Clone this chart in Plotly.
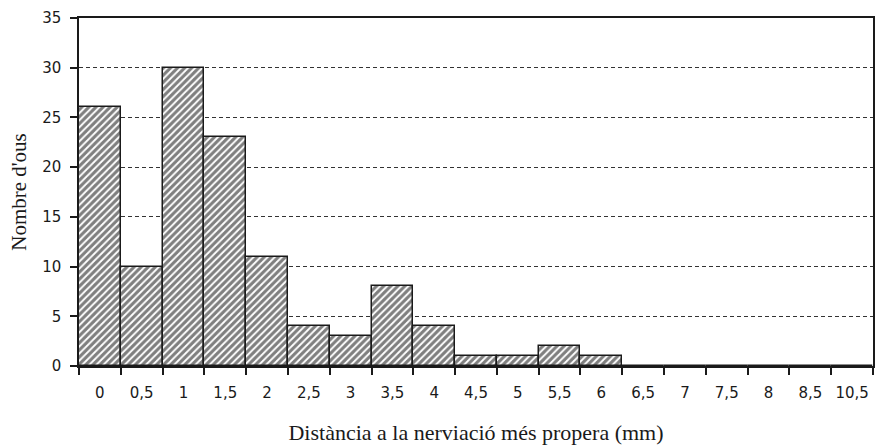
import plotly.graph_objects as go

categories = ["0", "0,5", "1", "1,5", "2", "2,5", "3", "3,5", "4", "4,5", "5", "5,5",
              "6", "6,5", "7", "7,5", "8", "8,5", "10,5"]
counts = [26, 10, 30, 23, 11, 4, 3, 8, 4, 1, 1, 2, 1, 0, 0, 0, 0, 0, 0]
y_ticks = [0, 5, 10, 15, 20, 25, 30, 35]

INK = "#1a1a1a"

fig = go.Figure()
fig.add_trace(go.Bar(
    x=categories, y=counts,
    marker=dict(
        color="white",
        line=dict(color=INK, width=1.5),
        pattern=dict(shape="/", fgcolor="#000000", bgcolor="white", size=5, solidity=0.62),
    ),
))

fig.update_layout(
    width=876, height=445,
    margin=dict(l=79, r=3, t=18, b=79),
    paper_bgcolor="white", plot_bgcolor="white",
    bargap=0,
    showlegend=False,
    font=dict(family="DejaVu Sans", size=15, color=INK),
)
fig.update_xaxes(
    type="category", automargin=False, tickangle=0,
    showline=True, linecolor=INK, linewidth=1.5, mirror=True,
    ticks="outside", tickson="boundaries", ticklen=7, tickcolor=INK, tickwidth=1.5,
    ticklabelstandoff=12,
    showgrid=False,
    tickfont=dict(family="DejaVu Sans", size=15, color=INK),
    title=dict(text="Distància a la nerviació més propera (mm)",
               font=dict(family="Liberation Serif", size=22, color=INK), standoff=24),
)
fig.update_yaxes(
    range=[0, 35], tickvals=y_ticks, automargin=False,
    showline=True, linecolor=INK, linewidth=1.5, mirror=True,
    ticks="outside", ticklen=7, tickcolor=INK, tickwidth=1.5,
    ticklabelstandoff=6,
    showgrid=True, gridcolor="#333333", griddash="4px,3px", gridwidth=1.2,
    zeroline=False,
    tickfont=dict(family="DejaVu Sans", size=15, color=INK),
    title=dict(text="Nombre d'ous",
               font=dict(family="Liberation Serif", size=21, color=INK), standoff=10),
)

fig.write_html("out.html",
               config={"displayModeBar": False},
               post_script="document.body.style.margin='0';document.body.style.padding='0';")
